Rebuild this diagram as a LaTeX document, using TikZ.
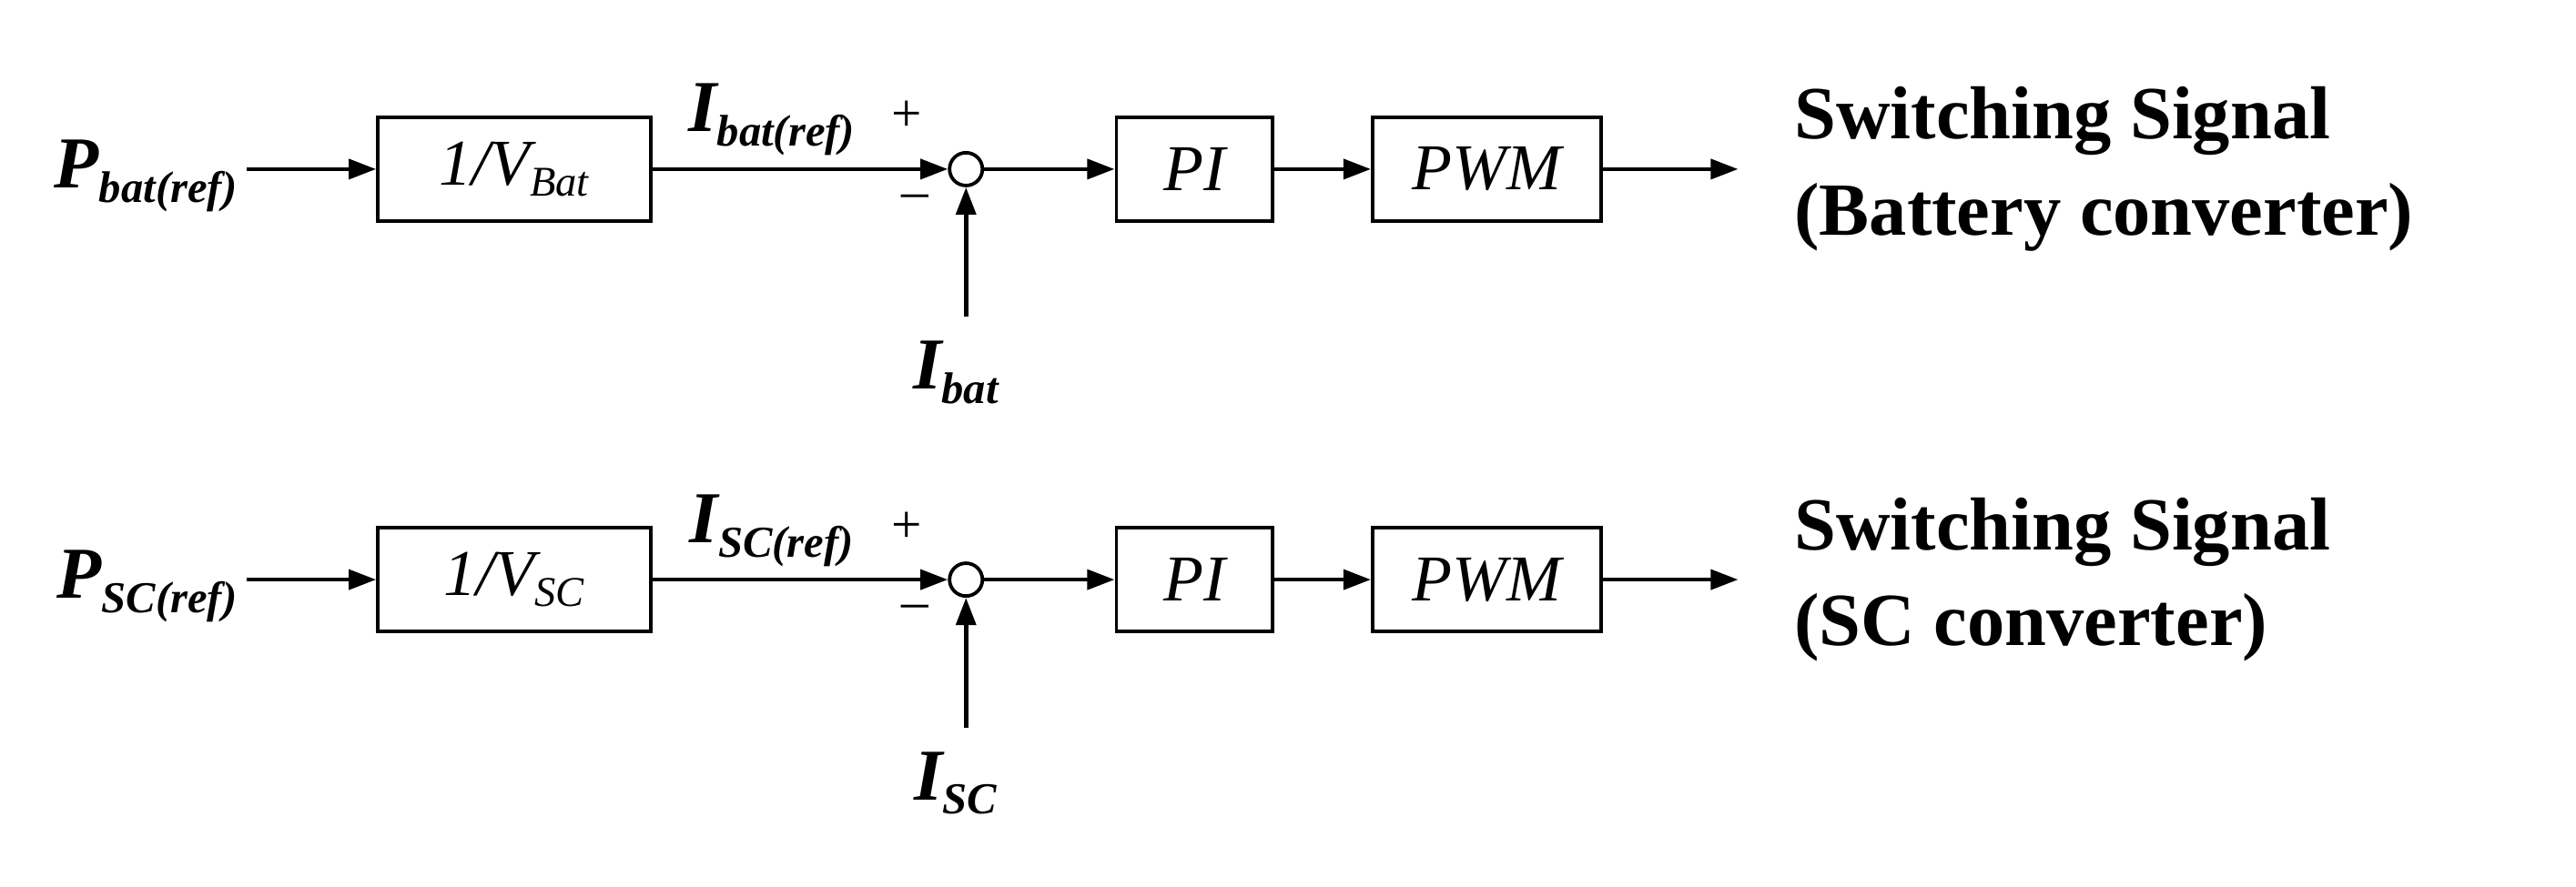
\documentclass[tikz,border=0pt]{standalone}
\usepackage{fontspec}
\setmainfont{Liberation Serif}
\usetikzlibrary{arrows.meta}
\begin{document}
\begin{tikzpicture}[x=0.3mm,y=-0.3mm,
  blk/.style={draw,line width=1.8pt,minimum height=19mm,font=\fontsize{34}{38}\selectfont\itshape,inner sep=0pt},
  sig/.style={font=\fontsize{38}{40}\selectfont\bfseries\itshape,inner sep=0pt},
  pm/.style={font=\fontsize{28}{30}\selectfont,inner sep=0pt},
  outtxt/.style={font=\fontsize{39}{50}\selectfont\bfseries,align=left,anchor=west,inner sep=0pt},
  sum/.style={draw,circle,line width=1.8pt,minimum size=6mm,inner sep=0pt},
  arr/.style={-{Triangle[length=5mm,width=3.6mm]},line width=2.2pt}]
\useasboundingbox (0,0) rectangle (1568,540);
\foreach \r/\yy/\sub/\vs/\ot in {a/103/bat/Bat/(Battery converter),b/353/SC/SC/(SC converter)}{
  \node[sig,anchor=east] (p\r) at (145,\yy+4) {P\textsubscript{\fontsize{23}{24}\selectfont\sub(ref)}};
  \node[blk,minimum width=166*0.3mm] (v\r) at (313,\yy) {1/V\textsubscript{\fontsize{22}{24}\selectfont\vs}};
  \node[sum] (s\r) at (588,\yy) {};
  \node[blk,minimum width=95*0.3mm] (pi\r) at (727,\yy) {PI};
  \node[blk,minimum width=139*0.3mm] (pw\r) at (905,\yy) {PWM};
  \coordinate (o\r) at (1058,\yy);
  \node[outtxt] (t\r) at (1092,\yy) {Switching Signal\\\ot};
  \node[sig] (i\r) at (582,\yy+124) {I\textsubscript{\fontsize{23}{24}\selectfont\sub}};
  \coordinate (b\r) at (588,\yy+90);
  \node[sig] (ir\r) at (470,\yy-30) {I\textsubscript{\fontsize{23}{24}\selectfont\sub(ref)}};
  \node[pm] (plus\r) at (552,\yy-32) {+};
  \node[pm] (min\r) at (557,\yy+20) {\textendash};
  \draw[arr] (150,\yy) -- (v\r.west);
  \draw[arr] (v\r.east) -- (s\r.west);
  \draw[arr] (s\r.east) -- (pi\r.west);
  \draw[arr] (pi\r.east) -- (pw\r.west);
  \draw[arr] (pw\r.east) -- (o\r);
  \draw[arr] (b\r) -- (s\r.south);
}
\end{tikzpicture}
\end{document}
